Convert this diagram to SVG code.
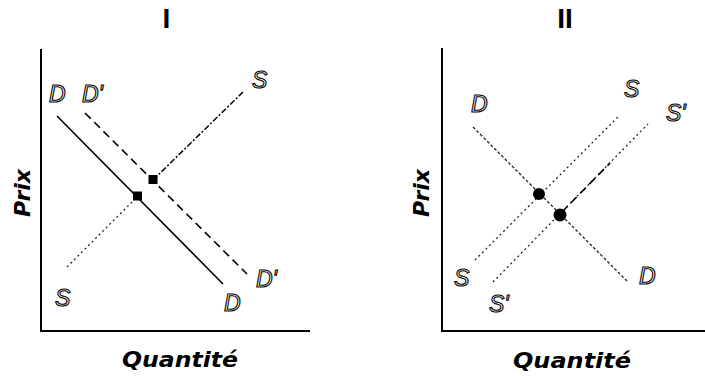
<svg xmlns="http://www.w3.org/2000/svg" width="705" height="376" viewBox="0 0 705 376">
<style>
.title{font-family:"Liberation Sans",Arial,sans-serif;font-weight:bold;font-size:28px;fill:#000;text-anchor:middle}
.axlab{font-family:"DejaVu Sans",Verdana,sans-serif;font-weight:bold;font-style:italic;font-size:22px;fill:#000;text-anchor:middle}
.lab{font-family:"Liberation Sans",Arial,sans-serif;font-style:italic;font-size:23px;fill:#fff;stroke:#000;stroke-width:1.1px}
.axis{stroke:#000;stroke-width:2;fill:none}
.solid{stroke:#000;stroke-width:1.6;fill:none}
.dash{stroke:#000;stroke-width:1.6;fill:none;stroke-dasharray:8 5}
.dot{stroke:#222;stroke-width:1.3;fill:none;stroke-dasharray:2 3}
.dashdot{stroke:#000;stroke-width:1.5;fill:none;stroke-dasharray:6 2 2 2}
</style>
<rect width="705" height="376" fill="#fff"/>
<g id="panel-I">
  <text class="title" x="166.5" y="28">I</text>
  <g id="axes-I">
    <line class="axis" x1="41" y1="49" x2="41" y2="331"/>
    <line class="axis" x1="40" y1="331" x2="310" y2="331"/>
    <text class="axlab" transform="translate(30,193) rotate(-90)">Prix</text>
    <text class="axlab" x="180" y="367" textLength="116" lengthAdjust="spacingAndGlyphs">Quantité</text>
  </g>
  <g id="connectors-I">
    <line id="D-I" class="solid" x1="57" y1="116" x2="223" y2="284"/>
    <line id="Dp-I" class="dash" x1="85" y1="113" x2="247" y2="274"/>
    <line id="S-I-low" class="dot" x1="67" y1="267" x2="137" y2="197"/>
    <line id="S-I-high" class="dashdot" x1="153" y1="180" x2="243" y2="92"/>
  </g>
  <g id="eq-I1"><rect x="133" y="191.5" width="9" height="9" fill="#000"/></g>
  <g id="eq-I2"><rect x="148.5" y="175" width="9" height="9" fill="#000"/></g>
  <g id="labels-I">
    <text class="lab" x="49" y="102">D</text>
    <text class="lab" x="82" y="102">D'</text>
    <text class="lab" x="252" y="88">S</text>
    <text class="lab" x="55" y="306">S</text>
    <text class="lab" x="224" y="311">D</text>
    <text class="lab" x="256" y="287">D'</text>
  </g>
</g>
<g id="panel-II">
  <text class="title" x="565" y="28">II</text>
  <g id="axes-II">
    <line class="axis" x1="442" y1="48" x2="442" y2="331"/>
    <line class="axis" x1="441" y1="331" x2="705" y2="331"/>
    <text class="axlab" transform="translate(429,193) rotate(-90)">Prix</text>
    <text class="axlab" x="572" y="368" textLength="118" lengthAdjust="spacingAndGlyphs">Quantité</text>
  </g>
  <g id="connectors-II">
    <line id="D-II" class="dot" style="stroke-dasharray:3 2" x1="473" y1="127" x2="628" y2="282"/>
    <line id="S-II" class="dot" x1="475" y1="260" x2="620" y2="115"/>
    <line id="Sp-II" class="dot" x1="493" y1="282" x2="648" y2="124"/>
    <line id="Sp-II-mid" class="dash" x1="562" y1="212" x2="610" y2="163"/>
  </g>
  <g id="eq-II1"><circle cx="539" cy="194" r="6" fill="#000"/></g>
  <g id="eq-II2"><circle cx="560" cy="215" r="6.5" fill="#000"/></g>
  <g id="labels-II">
    <text class="lab" x="471" y="112">D</text>
    <text class="lab" x="624" y="97">S</text>
    <text class="lab" x="666" y="121">S'</text>
    <text class="lab" x="454" y="286">S</text>
    <text class="lab" x="489" y="312">S'</text>
    <text class="lab" x="639" y="284">D</text>
  </g>
</g>
</svg>
